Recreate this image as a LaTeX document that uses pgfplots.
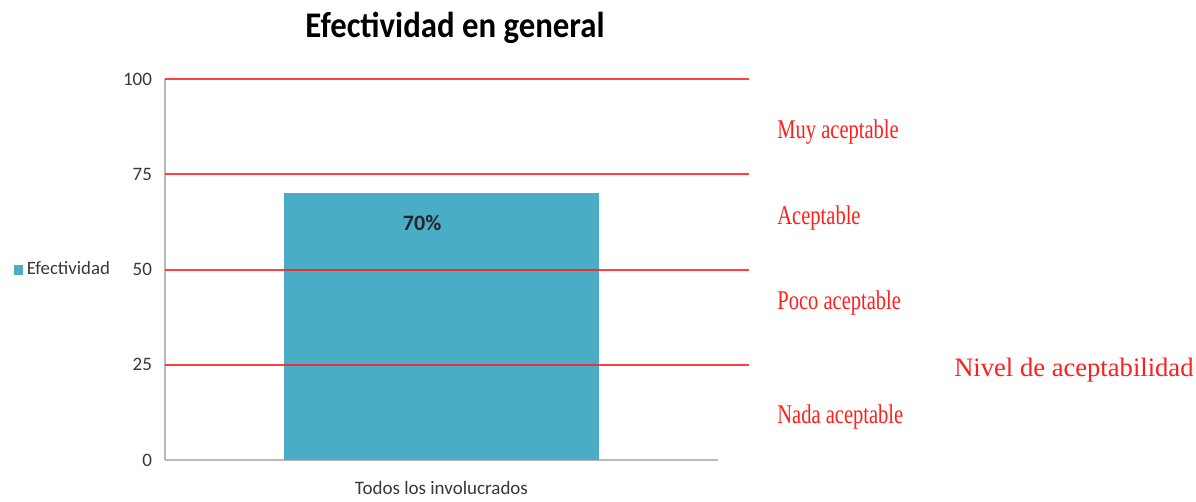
\documentclass[border=0pt]{standalone}
\usepackage{fontspec}
\setmainfont{Carlito}
\newfontfamily\timesf{Liberation Serif}
\usepackage{pgfplots}
\pgfplotsset{compat=1.18}
\definecolor{barc}{RGB}{75,172,198}
\definecolor{redl}{RGB}{255,30,30}
\definecolor{tickc}{RGB}{55,55,60}
\begin{document}
\begin{tikzpicture}[x=1pt,y=1pt]
\path (0,0) rectangle (598,248.5);
\node[font=\fontsize{16.4}{18}\selectfont\bfseries, text=black] at (227.5,234.5) {\scalebox{1}[1.1]{Efectividad en general}};
\begin{axis}[at={(82.5pt,18.5pt)}, anchor=south west, scale only axis,
 width=276.5pt, height=190.5pt,
 xmin=-1, xmax=1, ymin=0, ymax=100, clip=false,
 axis x line=bottom, axis y line=left,
 axis line style={-, gray!55, line width=0.8pt},
 xtick={0}, xticklabels={Todos los involucrados},
 ytick={0,25,50,75,100},
 major tick length=0pt,
 ticklabel style={font=\fontsize{9.5}{10}\selectfont, text=tickc},
 yticklabel style={xshift=-3pt},
 xticklabel style={yshift=-7pt},
 /pgf/number format/assume math mode=true,
 legend style={at={(-0.285,0.5)}, anchor=west, draw=none, fill=none,
   font=\fontsize{9.4}{10}\selectfont, text=tickc},
 legend image code/.code={\fill[barc] (0pt,-2.5pt) rectangle (4.5pt,2.5pt);},
]
\addplot[ybar, bar width=157.5pt, fill=barc, draw=none] coordinates {(0,70)};
\addlegendentry{Efectividad}
\addplot[redl, opacity=0.85, line width=1pt, forget plot] coordinates {(-1,25) (1.112,25)};
\addplot[redl, opacity=0.85, line width=1pt, forget plot] coordinates {(-1,50) (1.112,50)};
\addplot[redl, opacity=0.85, line width=1pt, forget plot] coordinates {(-1,75) (1.112,75)};
\addplot[redl, opacity=0.85, line width=1pt, forget plot] coordinates {(-1,100) (1.112,100)};
\node[font=\fontsize{11}{12}\selectfont\bfseries, text=black!85] at (axis cs:-0.07,62.2) {70\%};
\node[anchor=west, inner sep=0pt, font=\timesf\fontsize{13.5}{14}\selectfont, text=redl] at (axis cs:1.2134,86.1) {\scalebox{0.76}[1]{Muy aceptable}};
\node[anchor=west, inner sep=0pt, font=\timesf\fontsize{13.5}{14}\selectfont, text=redl] at (axis cs:1.2134,63.5) {\scalebox{0.76}[1]{Aceptable}};
\node[anchor=west, inner sep=0pt, font=\timesf\fontsize{13.5}{14}\selectfont, text=redl] at (axis cs:1.2134,41.2) {\scalebox{0.76}[1]{Poco aceptable}};
\node[anchor=west, inner sep=0pt, font=\timesf\fontsize{13.5}{14}\selectfont, text=redl] at (axis cs:1.2134,11.3) {\scalebox{0.76}[1]{Nada aceptable}};
\node[anchor=west, inner sep=0pt, font=\timesf\fontsize{13.3}{14}\selectfont, text=redl] at (axis cs:1.853,23.6) {Nivel de aceptabilidad};
\end{axis}
\end{tikzpicture}
\end{document}
